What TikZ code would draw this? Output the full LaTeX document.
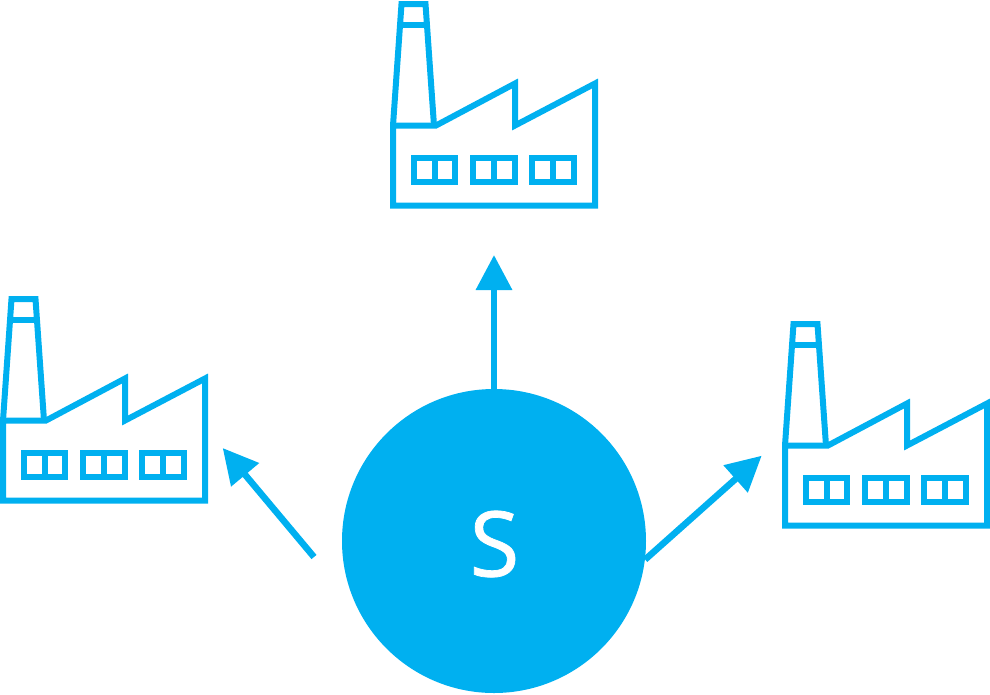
\documentclass[tikz,border=0pt]{standalone}
\usepackage{xcolor}
\usepackage{fontspec}
\setsansfont[FakeBold=0.8]{Open Sans}
\usetikzlibrary{arrows.meta}
\definecolor{skyblue}{RGB}{0,176,240}
\tikzset{
  factoryline/.style={draw=skyblue,line width=4.5pt,miter limit=10},
  flow/.style={draw=skyblue,line width=4.9pt,-{Triangle[length=26.25pt,width=26.25pt]}},
  source/.style={circle,fill=skyblue,inner sep=0pt,minimum size=228pt},
  factory/.pic={
    %Shape: Body
    \draw [factoryline] (0,0) -- (202,0) -- (202,-122) -- (122,-80) -- (122,-122) -- (43,-80) -- (0,-80) -- cycle ;
    %Shape: Chimney
    \draw [factoryline] (0,-80) -- (8.5,-201.5) -- (32.5,-201.5) -- (41,-80) ;
    \draw [factoryline] (7,-181) -- (34,-181) ;
    %Shape: Windows
    \foreach \wx in {20.5,80,139} {
      \draw [factoryline] (\wx,-48) rectangle (\wx+41.5,-23.5) ;
      \draw [factoryline] (\wx+21,-48) -- (\wx+21,-23.5) ;
    }
  }
}
\begin{document}
\begin{tikzpicture}[x=0.75pt,y=-0.75pt]
\useasboundingbox (0,0) rectangle (990,694);

%Shape: Factories
\pic at (393,205.5) {factory};
\pic at (3,500.5) {factory};
\pic at (785,525.5) {factory};

%Shape: Circle
\node [source] (s) at (494,541) {};
% Text Node
\node [text=white,font=\sffamily\fontsize{68}{72}\selectfont,inner sep=0pt] (label) at (494.5,544) {S};

%Free ends of the arrows
\coordinate (tipTop) at (494,255);
\coordinate (tipLeft) at (222.7,448);
\coordinate (tailLeft) at (314,557);
\coordinate (tipRight) at (761.7,455.7);

\draw [flow] (s.north) -- (tipTop);
\draw [flow] (tailLeft) -- (tipLeft);
\draw [flow] (s.-7) -- (tipRight);
\end{tikzpicture}
\end{document}
